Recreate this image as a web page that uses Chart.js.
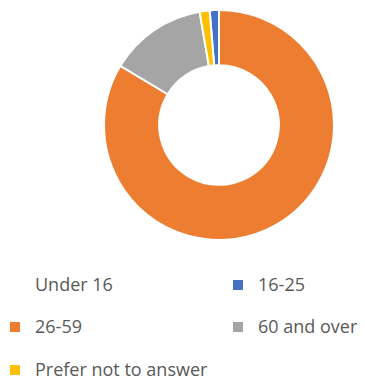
<!DOCTYPE html>
<html>
<head>
<meta charset="utf-8">
<script src="https://cdn.jsdelivr.net/npm/chart.js@4"></script>
<style>
  body { margin: 0; background: #fff; }
  #wrap { position: relative; width: 365px; height: 381px; }
  #chart-box { position: absolute; left: 0; top: 0; width: 365px; height: 250px; }
  .item { position: absolute; font-family: "Open Sans", sans-serif; font-size: 18px; color: #595959;
          height: 24px; line-height: 24px; white-space: nowrap; }
  .item span.box { display: inline-block; width: 10px; height: 10px; vertical-align: middle;
                   margin-right: 15px; position: relative; top: -1px; }
</style>
</head>
<body>
<div id="wrap">
  <div id="chart-box"><canvas id="chart"></canvas></div>
  <div id="legend"></div>
</div>
<script>
// Age groups and share of respondents (%)
const labels = ['Under 16', '16-25', '26-59', '60 and over', 'Prefer not to answer'];
const values = [0, 1.3, 83.6, 13.7, 1.4];
const colors = ['#FFFFFF', '#4472C4', '#ED7D31', '#A5A5A5', '#FFC000'];

// Legend grid: column x and row y for each item
const legendSlots = [[10, 272], [233, 272], [10, 314], [233, 314], [10, 357]];

const ctx = document.getElementById('chart').getContext('2d');
const chart = new Chart(ctx, {
    type: 'doughnut',
    data: {
        labels: labels,
        datasets: [{
            data: values,
            backgroundColor: colors,
            borderColor: '#FFFFFF',
            borderWidth: 2
        }]
    },
    options: {
        responsive: true,
        maintainAspectRatio: false,
        animation: false,
        cutout: '52%',
        // first slice starts a little before 12 o'clock so 26-59 begins at the top
        rotation: -(values[0] + values[1]) / values.reduce((a, b) => a + b, 0) * 360,
        layout: { padding: { left: 103, right: 30, top: 9, bottom: 9 } },
        plugins: {
            legend: { display: false },
            tooltip: { enabled: false }
        }
    }
});

// Build the legend from the chart's own labels
const legend = document.getElementById('legend');
chart.data.labels.forEach((label, i) => {
    const item = document.createElement('div');
    item.className = 'item';
    item.style.left = legendSlots[i][0] + 'px';
    item.style.top = legendSlots[i][1] + 'px';
    const box = document.createElement('span');
    box.className = 'box';
    box.style.background = chart.data.datasets[0].backgroundColor[i];
    item.appendChild(box);
    item.appendChild(document.createTextNode(label));
    legend.appendChild(item);
});
</script>
</body>
</html>
